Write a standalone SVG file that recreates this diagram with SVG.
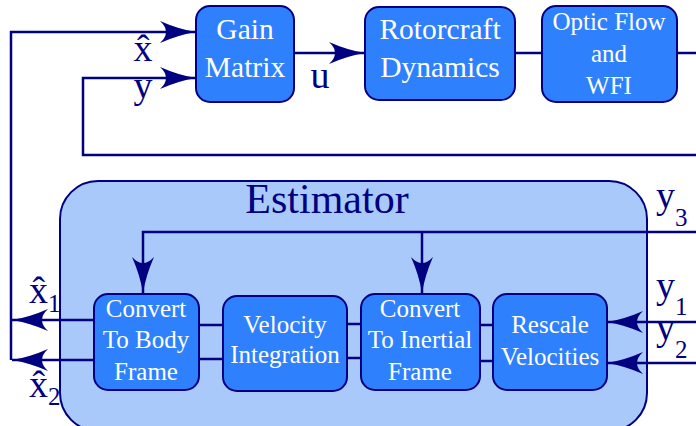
<svg xmlns="http://www.w3.org/2000/svg" width="696" height="426" viewBox="0 0 696 426">
  <style>
    .blk { fill: #2f80fd; stroke: #000080; stroke-width: 2; }
    .est { fill: #a9c9fb; stroke: #000080; stroke-width: 2; }
    .wire { fill: none; stroke: #000080; stroke-width: 2.5; }
    text { font-family: 'Liberation Serif', 'DejaVu Serif', serif; }
    .btxt { font-size: 25px; fill: #ffffff; text-anchor: middle; }
    .big { font-size: 29.5px; }
    .lbl { font-size: 38px; fill: #000080; }
    .sub { font-size: 25px; }
    .ttl { font-size: 42px; fill: #000080; text-anchor: middle; }
  </style>
  <defs>
    <marker id="arr" markerUnits="userSpaceOnUse" orient="auto" overflow="visible" markerWidth="1" markerHeight="1" refX="0" refY="0">
      <path d="M0,0 Q-18,-3 -36,-11 Q-24,0 -36,11 Q-18,3 0,0 Z" fill="#000080"/>
    </marker>
  </defs>

  <!-- estimator container -->
  <g id="estimator">
    <rect class="est" x="60" y="181" width="587" height="250" rx="38"/>
    <text class="ttl" x="327" y="213">Estimator</text>
  </g>

  <!-- connectors -->
  <g id="connectors">
    <path class="wire" d="M94,360 H12" marker-end="url(#arr)"/>
    <path class="wire" d="M94,320 H12" marker-end="url(#arr)"/>
    <path class="wire" d="M11,360 V32 H196" marker-end="url(#arr)"/>
    <path class="wire" d="M696,155 H83 V78 H196" marker-end="url(#arr)"/>
    <path class="wire" d="M294,53 H365" marker-end="url(#arr)"/>
    <path class="wire" d="M515,53 H542"/>
    <path class="wire" d="M677,53 H696"/>
    <path class="wire" d="M696,232 H143 V293" marker-end="url(#arr)"/>
    <path class="wire" d="M422,232 V293" marker-end="url(#arr)"/>
    <path class="wire" d="M696,322 H607" marker-end="url(#arr)"/>
    <path class="wire" d="M696,363 H607" marker-end="url(#arr)"/>
    <path class="wire" d="M199,325 H223 M199,359 H223"/>
    <path class="wire" d="M347,324 H361 M347,358 H361"/>
    <path class="wire" d="M480,325 H493 M480,361 H493"/>
  </g>

  <!-- signal labels -->
  <g id="labels">
    <text class="lbl" x="143" y="61" text-anchor="middle">x̂</text>
    <text class="lbl" x="143" y="98" text-anchor="middle">y</text>
    <text class="lbl" x="320" y="88" text-anchor="middle">u</text>
    <text class="lbl" x="29" y="303">x̂<tspan class="sub" dy="9">1</tspan></text>
    <text class="lbl" x="29" y="397">x̂<tspan class="sub" dy="8">2</tspan></text>
    <text class="lbl" x="656" y="208">y<tspan class="sub" dy="18">3</tspan></text>
    <text class="lbl" x="656" y="298">y<tspan class="sub" dy="17">1</tspan></text>
    <text class="lbl" x="656" y="340">y<tspan class="sub" dy="18">2</tspan></text>
  </g>

  <g id="gain">
    <rect class="blk" x="196" y="6" width="98" height="96" rx="14"/>
    <text class="btxt big" x="245" y="39">Gain</text>
    <text class="btxt big" x="245" y="77">Matrix</text>
  </g>
  <g id="rotorcraft">
    <rect class="blk" x="365" y="7" width="150" height="93" rx="14"/>
    <text class="btxt big" x="440" y="39">Rotorcraft</text>
    <text class="btxt big" x="440" y="77">Dynamics</text>
  </g>
  <g id="opticflow">
    <rect class="blk" x="542" y="6" width="135" height="96" rx="14"/>
    <text class="btxt" x="609" y="30">Optic Flow</text>
    <text class="btxt" x="609" y="62">and</text>
    <text class="btxt" x="609" y="94">WFI</text>
  </g>
  <g id="tobody">
    <rect class="blk" x="94" y="294" width="105" height="96" rx="14"/>
    <text class="btxt" x="146" y="317">Convert</text>
    <text class="btxt" x="146" y="348">To Body</text>
    <text class="btxt" x="146" y="380">Frame</text>
  </g>
  <g id="velint">
    <rect class="blk" x="223" y="296" width="124" height="95" rx="14"/>
    <text class="btxt" x="285" y="333">Velocity</text>
    <text class="btxt" x="285" y="363">Integration</text>
  </g>
  <g id="toinertial">
    <rect class="blk" x="361" y="294" width="119" height="96" rx="14"/>
    <text class="btxt" x="420" y="317">Convert</text>
    <text class="btxt" x="420" y="348">To Inertial</text>
    <text class="btxt" x="420" y="380">Frame</text>
  </g>
  <g id="rescale">
    <rect class="blk" x="493" y="294" width="114" height="96" rx="14"/>
    <text class="btxt" x="550" y="333">Rescale</text>
    <text class="btxt" x="550" y="365">Velocities</text>
  </g>
</svg>
